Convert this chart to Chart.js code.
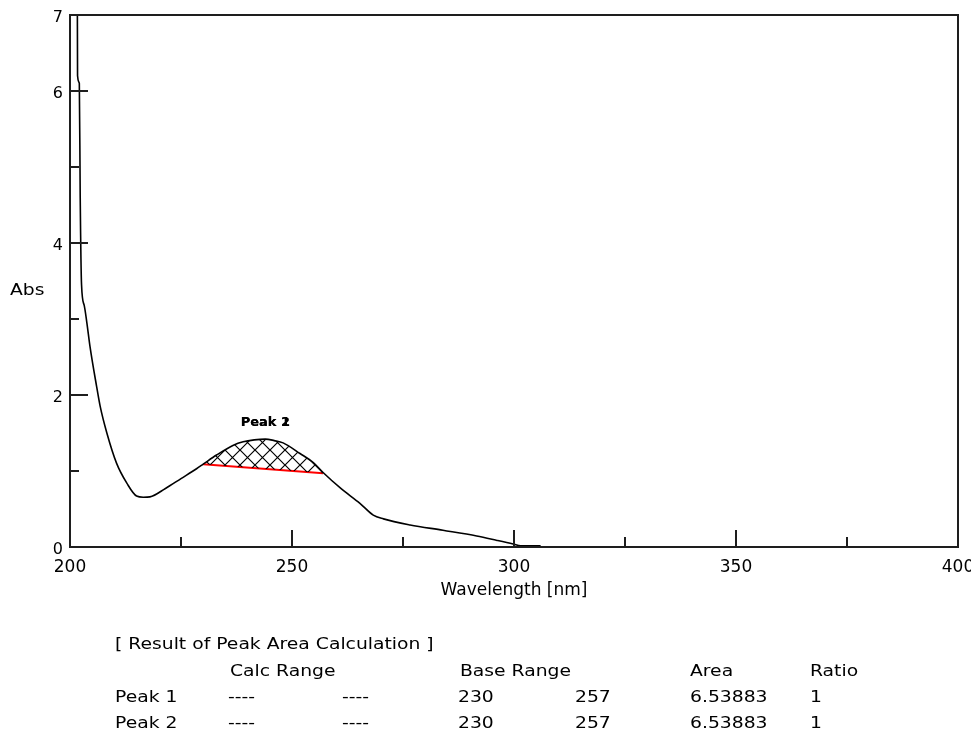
<!DOCTYPE html>
<html>
<head>
<meta charset="utf-8">
<script src="https://cdn.jsdelivr.net/npm/chart.js@4.4.1/dist/chart.umd.min.js"></script>
<style>
html,body{margin:0;padding:0;background:#fff;overflow:hidden}
#wrap{width:971px;height:738px;position:relative}
</style>
</head>
<body>
<div id="wrap"><canvas id="c" width="971" height="738"></canvas></div>
<script>
// ---- data ----
const wavelengths = [201.65, 201.7, 202.1, 202.3, 202.6, 203.2, 203.8, 204.5, 206.0, 206.8, 208.3, 210.5, 212.8, 215.0, 216.5, 218.0, 221.5, 225.0, 228.5, 230, 233, 236.8, 239, 241.5, 244, 246, 248, 251.8, 254.8, 257, 261, 265.3, 268.3, 270.6, 276.6, 284, 291.6, 296, 299.8, 301.5, 306];
const absorbance  = [7.3, 6.2, 6.1, 4.6, 3.45, 3.18, 2.95, 2.64, 2.11, 1.85, 1.50, 1.10, 0.84, 0.67, 0.655, 0.66, 0.77, 0.90, 1.03, 1.09, 1.21, 1.34, 1.385, 1.41, 1.42, 1.40, 1.37, 1.23, 1.11, 0.98, 0.77, 0.575, 0.42, 0.37, 0.29, 0.22, 0.145, 0.09, 0.04, 0.015, 0.015];
const baseRangeX  = [230, 257];
const baseRangeY  = [1.09, 0.97];
const xTickValues = [200, 250, 300, 350, 400];
const xMajorMarks = [250, 300, 350];
const xMinorMarks = [225, 275, 325, 375];
const yTickValues = [0, 2, 4, 6, 7];
const yMajorMarks = [2, 4, 6];
const yMinorMarks = [1, 3, 5];
const peakNames   = ['Peak 1', 'Peak 2'];
const yTitle      = 'Abs';
const xTitle      = 'Wavelength [nm]';
const tableTitle  = '[ Result of Peak Area Calculation ]';
const tableHeaders = ['Calc Range', 'Base Range', 'Area', 'Ratio'];
const tableRows   = [
  ['Peak 1', '----', '----', '230', '257', '6.53883', '1'],
  ['Peak 2', '----', '----', '230', '257', '6.53883', '1']
];

// ---- build ----
const curve = wavelengths.map((x, i) => ({x: x, y: absorbance[i]}));
const peakArea = curve.filter(p => p.x >= baseRangeX[0] && p.x <= baseRangeX[1]);
const baseline = baseRangeX.map((x, i) => ({x: x, y: baseRangeY[i]}));

function makeHatch() {
  const s = 15;
  const c = document.createElement('canvas');
  c.width = s; c.height = s;
  const g = c.getContext('2d');
  g.strokeStyle = '#000';
  g.lineWidth = 1.2;
  g.beginPath();
  g.moveTo(-1, -1); g.lineTo(s + 1, s + 1);
  g.moveTo(s + 1, -1); g.lineTo(-1, s + 1);
  g.stroke();
  return g.createPattern(c, 'repeat');
}

const FONT = 'DejaVu Sans';
function sText(ctx, text, x, y, sx, align, font) {
  ctx.save();
  ctx.font = font;
  ctx.fillStyle = '#000';
  ctx.translate(x, y);
  ctx.scale(sx, 1);
  ctx.textAlign = align || 'left';
  ctx.textBaseline = 'middle';
  ctx.fillText(text, 0, 0);
  ctx.restore();
}

const decor = {
  id: 'decor',
  afterDatasetsDraw(chart) {
    const ctx = chart.ctx, a = chart.chartArea;
    const xs = chart.scales.x, ys = chart.scales.y;
    ctx.save();
    ctx.strokeStyle = '#1e1e1e';
    ctx.lineWidth = 2;
    ctx.strokeRect(a.left, a.top, a.right - a.left, a.bottom - a.top);
    ctx.beginPath();
    xMajorMarks.forEach(v => { const p = Math.round(xs.getPixelForValue(v)); ctx.moveTo(p, a.bottom); ctx.lineTo(p, a.bottom - 17); });
    xMinorMarks.forEach(v => { const p = Math.round(xs.getPixelForValue(v)); ctx.moveTo(p, a.bottom); ctx.lineTo(p, a.bottom - 10); });
    yMajorMarks.forEach(v => { const p = Math.round(ys.getPixelForValue(v)); ctx.moveTo(a.left, p); ctx.lineTo(a.left + 18, p); });
    yMinorMarks.forEach(v => { const p = Math.round(ys.getPixelForValue(v)); ctx.moveTo(a.left, p); ctx.lineTo(a.left + 9, p); });
    ctx.stroke();
    ctx.restore();
  },
  afterDraw(chart) {
    const ctx = chart.ctx;
    const xs = chart.scales.x, ys = chart.scales.y;
    // peak label above the apex of the integrated peak
    let top = peakArea[0];
    peakArea.forEach(p => { if (p.y > top.y) top = p; });
    const lx = xs.getPixelForValue(top.x), ly = ys.getPixelForValue(top.y) - 16;
    peakNames.forEach(n => sText(ctx, n, lx, ly, 1, 'center', 'bold 13px "' + FONT + '"'));
    // y title (horizontal)
    sText(ctx, yTitle, 10, 291, 1.25, 'left', '15px "' + FONT + '"');
    // result table
    const f = '15px "' + FONT + '"';
    const colX = [115, 228, 342, 458, 575, 690, 810];
    const headX = [230, 460, 690, 810];
    sText(ctx, tableTitle, 115, 645, 1.25, 'left', f);
    tableHeaders.forEach((h, i) => sText(ctx, h, headX[i], 672, 1.25, 'left', f));
    tableRows.forEach((r, j) => r.forEach((c, i) => sText(ctx, c, colX[i], 698 + j * 26, 1.25, 'left', f)));
  }
};

new Chart(document.getElementById('c'), {
  type: 'scatter',
  data: {
    datasets: [
      {label: 'Spectrum', data: curve, showLine: true, borderColor: '#000', borderWidth: 1.6, pointRadius: 0, cubicInterpolationMode: 'monotone', fill: false},
      {label: 'Peak area', data: peakArea, showLine: true, borderColor: 'rgba(0,0,0,0)', borderWidth: 0, pointRadius: 0, cubicInterpolationMode: 'monotone', fill: {target: 2}, backgroundColor: makeHatch()},
      {label: 'Base line', data: baseline, showLine: true, borderColor: '#ff0000', borderWidth: 2, pointRadius: 0, fill: false}
    ]
  },
  options: {
    responsive: false,
    animation: false,
    devicePixelRatio: 1,
    layout: {padding: {left: 0, top: 15, right: 13, bottom: 131}},
    plugins: {legend: {display: false}, tooltip: {enabled: false}},
    scales: {
      x: {
        type: 'linear', min: 200, max: 400,
        grid: {display: false, drawTicks: false},
        border: {display: false},
        ticks: {padding: 10, color: '#000', maxRotation: 0, autoSkip: false, font: {family: FONT, size: 17}},
        afterBuildTicks: s => { s.ticks = xTickValues.map(v => ({value: v})); },
        title: {display: true, text: xTitle, color: '#000', font: {family: FONT, size: 17}, padding: {top: 0, bottom: 6}},
        afterFit: s => { s.height = 60; s.paddingLeft = 0; s.paddingRight = 0; }
      },
      y: {
        type: 'linear', min: 0, max: 7,
        grid: {display: false, drawTicks: false},
        border: {display: false},
        ticks: {padding: 7, labelOffset: 3, color: '#000', font: {family: FONT, size: 16}},
        afterBuildTicks: s => { s.ticks = yTickValues.map(v => ({value: v})); },
        afterFit: s => { s.width = 70; s.paddingTop = 0; s.paddingBottom = 0; }
      }
    }
  },
  plugins: [decor]
});
</script>
</body>
</html>
